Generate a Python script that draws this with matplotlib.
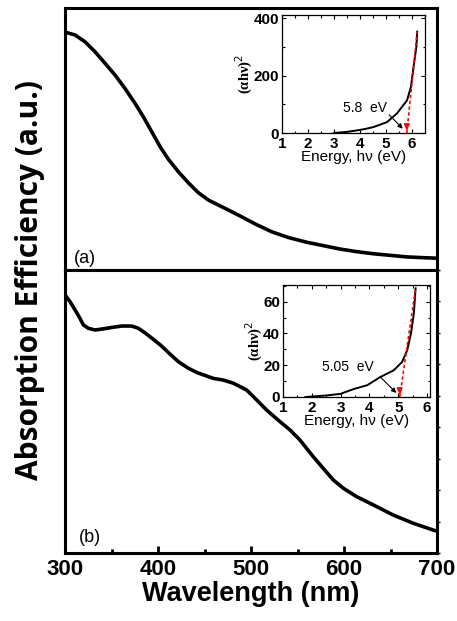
import numpy as np
import matplotlib
matplotlib.use("Agg")
import matplotlib.pyplot as plt
from matplotlib.ticker import MultipleLocator
from matplotlib.font_manager import FontProperties

# ---- data ----
wl_a = [300, 310.8, 321.5, 332.3, 343, 353.8, 364.5, 375.3, 384.2, 393.2, 402.2, 411.1, 421.9,
        432.6, 443.4, 454.1, 464.9, 475.6, 490, 504.3, 522.2, 540.1, 559.9, 577.7, 595.7,
        613.6, 631.5, 649.5, 667.4, 685.3, 700]
abs_a = [0.908, 0.897, 0.871, 0.833, 0.789, 0.744, 0.693, 0.636, 0.585, 0.528, 0.471, 0.423, 0.375,
         0.333, 0.295, 0.267, 0.248, 0.229, 0.203, 0.176, 0.146, 0.124, 0.106, 0.093, 0.080,
         0.070, 0.062, 0.056, 0.050, 0.047, 0.045]

wl_b = [300, 305.4, 310.8, 316.1, 319.7, 325.1, 332.3, 341.2, 350.2, 361, 371.7, 378.9, 386,
        395, 404, 412.9, 421.9, 432.6, 441.6, 459.5, 470.2, 481, 495.3, 506.1, 516.8, 531.2,
        541.9, 552.7, 567, 577.7, 588.5, 599.2, 613.6, 631.5, 653, 674.5, 696, 700]
abs_b = [0.912, 0.888, 0.859, 0.829, 0.806, 0.794, 0.788, 0.792, 0.797, 0.802, 0.802, 0.794, 0.778,
         0.755, 0.731, 0.703, 0.676, 0.653, 0.638, 0.617, 0.611, 0.600, 0.576, 0.541, 0.505, 0.464,
         0.435, 0.399, 0.340, 0.299, 0.258, 0.229, 0.199, 0.170, 0.134, 0.105, 0.081, 0.077]

E_a = [2.99, 3.5, 3.88, 4.2, 4.53, 5.04, 5.42, 5.81, 5.96, 6.06, 6.17, 6.2]
tauc_a = [0, 4, 9, 14, 21, 38, 68, 114, 161, 231, 301, 353]
fit_a_E = [5.8, 6.2]
fit_a_y = [0, 353]
gap_a = "5.8  eV"

E_b = [1.78, 2.53, 3.0, 3.45, 3.92, 4.38, 4.84, 5.13, 5.31, 5.44, 5.54, 5.6]
tauc_b = [0, 1, 2, 5, 7.4, 12.6, 16.8, 22, 29.5, 40, 52.6, 68.4]
fit_b_E = [5.05, 5.6]
fit_b_y = [0, 68.4]
gap_b = "5.05  eV"

xticks_main = [300, 400, 500, 600, 700]

W, H = 457, 621
fig = plt.figure(figsize=(W / 100, H / 100), dpi=100)

def fx(px):
    return px / W

def fy(py):
    return 1 - py / H

L, R = 65, 437
top, mid, bot = 8, 270, 553
ax_a = fig.add_axes([fx(L), fy(mid), fx(R - L), (mid - top) / H])
ax_b = fig.add_axes([fx(L), fy(bot), fx(R - L), (bot - mid) / H])

for ax in (ax_a, ax_b):
    for s in ax.spines.values():
        s.set_linewidth(2.2)
    ax.set_xlim(300, 700)
    ax.set_ylim(0, 1)

ax_a.plot(wl_a, abs_a, color="black", lw=2.6, solid_joinstyle="round")
ax_b.plot(wl_b, abs_b, color="black", lw=2.6, solid_joinstyle="round")

ax_a.set_xticks([])
ax_a.set_yticks([])
ax_b.set_yticks(np.linspace(0, 1, 10))
ax_b.tick_params(axis="y", left=False, right=True, labelleft=False, direction="out", length=2.5, width=1)
ax_b.set_xticks(xticks_main)
ax_b.xaxis.set_minor_locator(MultipleLocator(50))
ax_b.tick_params(axis="x", which="major", direction="in", length=5, width=2, pad=4)
ax_b.tick_params(axis="x", which="minor", direction="in", length=3, width=2)
for lab in ax_b.get_xticklabels():
    lab.set_fontproperties(FontProperties(family="Liberation Sans", weight="bold", size=16))

ax_b.set_xlabel("Wavelength (nm)", fontsize=19.5, fontweight="bold", family="Liberation Sans", labelpad=1)
fig.text(fx(30), fy(280), "Absorption Efficiency (a.u.)", rotation=90, fontsize=21.5,
         fontweight="bold", family="Open Sans", ha="center", va="center")

ax_a.text((85 - L) / (R - L), (mid - 259) / (mid - top), "(a)", transform=ax_a.transAxes,
          fontsize=13, ha="center", va="center", family="Liberation Sans")
ax_b.text((90 - L) / (R - L), (bot - 538) / (bot - mid), "(b)", transform=ax_b.transAxes,
          fontsize=13, ha="center", va="center", family="Liberation Sans")

# ---- insets ----
def inset(rect, E, y, fitE, fity, xlim, ylim, yticks, ymin, label, txt_xy, arr_from, arr_to, xticks):
    ax = fig.add_axes(rect)
    ax.plot(E, y, color="black", lw=1.4)
    ax.plot(fitE, fity, color="red", lw=1.2, ls=(0, (2, 1.5)))
    ax.annotate("", xy=(fitE[0], 0), xytext=(fitE[0], ylim[1] * 0.07),
                arrowprops=dict(arrowstyle="-|>", color="red", lw=1.2, mutation_scale=8))
    ax.annotate("", xy=arr_to, xytext=arr_from,
                arrowprops=dict(arrowstyle="-|>", color="black", lw=0.8, mutation_scale=7))
    ax.text(txt_xy[0], txt_xy[1], label, fontsize=10, family="Liberation Sans", ha="center", va="center")
    ax.set_xlim(*xlim)
    ax.set_ylim(*ylim)
    ax.set_xticks(xticks)
    ax.set_yticks(yticks)
    ax.yaxis.set_minor_locator(MultipleLocator(ymin))
    ax.xaxis.set_minor_locator(MultipleLocator(0.5))
    ax.tick_params(which="both", direction="in", top=True, right=True, width=0.8)
    ax.tick_params(which="major", length=3)
    ax.tick_params(axis="x", which="major", pad=3)
    ax.tick_params(axis="y", which="major", pad=2)
    ax.tick_params(which="minor", length=1.8)
    for lab in ax.get_xticklabels() + ax.get_yticklabels():
        lab.set_fontproperties(FontProperties(family="Liberation Sans", weight="bold", size=11))
    for s in ax.spines.values():
        s.set_linewidth(0.9)
    ax.set_xlabel("Energy, h\u03bd (eV)", fontsize=11, family="Liberation Sans", labelpad=-1)
    ax.set_ylabel("(\u03b1h\u03bd)$^2$", fontsize=10.5, fontweight="bold", family="Liberation Serif", labelpad=-1)
    return ax

inset([fx(282), fy(133), fx(425 - 282), (133 - 15) / H], E_a, tauc_a, fit_a_E, fit_a_y,
      (1, 6.5), (0, 411), [0, 200, 400], 100, gap_a, (4.2, 88),
      (5.05, 70), (5.72, 8), [1, 2, 3, 4, 5, 6])

inset([fx(283), fy(397), fx(430 - 283), (397 - 285) / H], E_b, tauc_b, fit_b_E, fit_b_y,
      (1, 6.1), (0, 70.5), [0, 20, 40, 60], 10, gap_b, (3.25, 19),
      (4.3, 14), (5.0, 1.3), [1, 2, 3, 4, 5, 6])

fig.savefig("out.png", dpi=100)
